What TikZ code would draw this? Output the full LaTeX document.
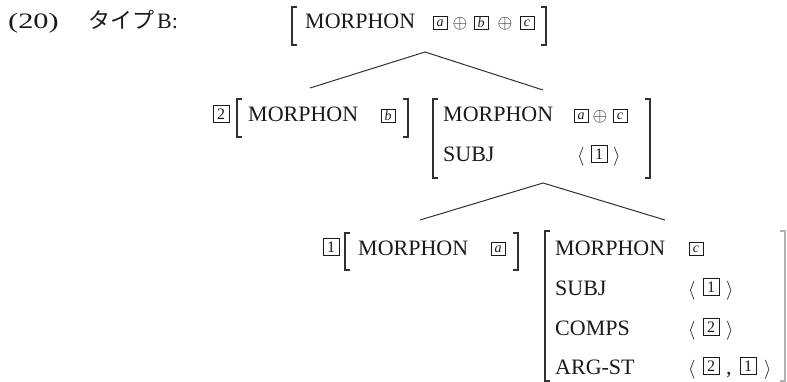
\RequirePackage{fix-cm}
\documentclass[tikz,border=0pt]{standalone}
\usepackage{fontspec}
\usepackage{graphicx}
\setmainfont{Liberation Serif}
\newfontfamily\jpfont{Noto Sans CJK JP}
\definecolor{ink}{HTML}{1A1A1A}
\tikzset{
  lbl/.style={anchor=base west, inner sep=0pt, text=ink, font=\fontsize{22}{26}\selectfont},
  ltag/.style={draw=ink, line width=0.9pt, minimum width=14pt, minimum height=13pt,
    inner sep=0pt, anchor=south, text=ink, font=\fontsize{14}{14}\selectfont\itshape},
  ntag/.style={draw=ink, line width=0.9pt, minimum width=16pt, minimum height=17pt,
    inner sep=0pt, anchor=south, text=ink, font=\fontsize{16}{16}\selectfont},
  sym/.style={anchor=base, inner sep=0pt, text=ink, font=\fontsize{19}{19}\selectfont},
  ang/.style={anchor=base west, inner sep=0pt, text=ink, font=\fontsize{19}{19}\selectfont},
  brk/.style={draw=ink!90, line width=1.1pt},
  branch/.style={draw=ink!90, line width=1pt},
}
% left and right square brackets of an attribute-value matrix: x, top, bottom
\newcommand\avmL[3]{\draw[brk] (#1+5,#2) -- (#1,#2) -- (#1,#3) -- (#1+5,#3);}
\newcommand\avmR[3]{\draw[brk] (#1-5,#2) -- (#1,#2) -- (#1,#3) -- (#1-5,#3);}
\begin{document}
\begin{tikzpicture}[x=1pt,y=-1pt]
\useasboundingbox (0,0) rectangle (787,382);

% example number and heading
\node[lbl] (num) at (8,29) {\scalebox{1.38}[1]{(20)}};
\node[lbl] (typ) at (88,29) {{\jpfont タイプ}\hspace{3pt}B:};

% mother: [MORPHON a + b + c]
\avmL{292}{7}{45}
\avmR{546}{7}{45}
\node[lbl] (m0) at (305,29) {MORPHON};
\node[ltag] (m0a) at (440,30) {a};
\node[sym] (m0p1) at (460,29) {$\oplus$};
\node[ltag] (m0b) at (481,30) {b};
\node[sym] (m0p2) at (505,29) {$\oplus$};
\node[ltag] (m0c) at (527,30) {c};

% first branching
\coordinate (top0) at (425,52);
\coordinate (top0l) at (310,88);
\coordinate (top0r) at (543,90);
\draw[branch] (top0l) -- (top0) -- (top0r);

% daughter 2: [MORPHON b]
\node[ntag] (t2) at (221,123) {2};
\avmL{237}{99}{137}
\avmR{408}{99}{137}
\node[lbl] (m2) at (248,122) {MORPHON};
\node[ltag] (m2b) at (388,123) {b};

% head daughter: [MORPHON a + c, SUBJ <1>]
\avmL{433}{99}{178}
\avmR{650}{99}{178}
\node[lbl] (h1) at (443,122) {MORPHON};
\node[ltag] (h1a) at (581,123) {a};
\node[sym] (h1p) at (600,122) {$\oplus$};
\node[ltag] (h1c) at (620,123) {c};
\node[lbl] (h1s) at (443,162) {SUBJ};
\node[ang] (h1lo) at (577,162) {$\langle$};
\node[ntag] (h1t) at (599,163) {1};
\node[ang] (h1rc) at (613,162) {$\rangle$};

% second branching
\coordinate (top1) at (543,183);
\coordinate (top1l) at (420,220);
\coordinate (top1r) at (665,220);
\draw[branch] (top1l) -- (top1) -- (top1r);

% daughter 1: [MORPHON a]
\node[ntag] (t1) at (331,256) {1};
\avmL{345}{233}{270}
\avmR{518}{233}{270}
\node[lbl] (m1) at (358,255) {MORPHON};
\node[ltag] (m1a) at (498,256) {a};

% lexical head: [MORPHON c, SUBJ <1>, COMPS <2>, ARG-ST <2,1>]
\avmL{545}{231}{381}
\draw[brk, draw=ink!35] (780,231) -- (785,231) -- (785,381) -- (780,381);
\node[lbl] (lm) at (555,255) {MORPHON};
\node[ltag] (lmc) at (696,256) {c};
\node[lbl] (ls) at (555,295) {SUBJ};
\node[ang] (lslo) at (688,295) {$\langle$};
\node[ntag] (lst) at (711,296) {1};
\node[ang] (lsrc) at (726,295) {$\rangle$};
\node[lbl] (lc) at (555,335) {COMPS};
\node[ang] (lclo) at (688,335) {$\langle$};
\node[ntag] (lct) at (711,336) {2};
\node[ang] (lcrc) at (726,335) {$\rangle$};
\node[lbl] (la) at (555,374) {ARG-ST};
\node[ang] (lalo) at (688,374) {$\langle$};
\node[ntag] (lat2) at (711,375) {2};
\node[lbl] (lacm) at (726,374) {,};
\node[ntag] (lat1) at (748,375) {1};
\node[ang] (larc) at (764,374) {$\rangle$};
\end{tikzpicture}
\end{document}
